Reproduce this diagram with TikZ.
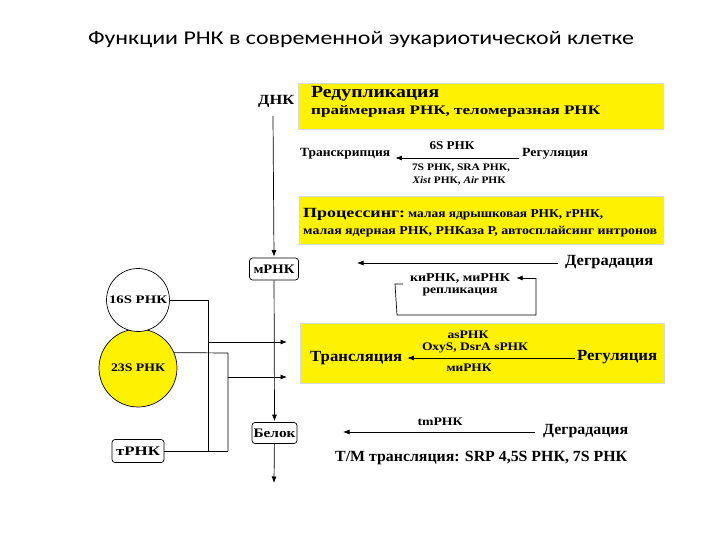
\documentclass[tikz,border=0pt]{standalone}
\usepackage{fontspec}
\usepackage{graphicx}
\setmainfont{Liberation Serif}
\newfontfamily\titlefont{Carlito}
\usetikzlibrary{arrows.meta}
\newcommand{\fs}[1]{\fontsize{#1}{#1}\selectfont}
\newcommand{\hs}[2]{\resizebox{#1pt}{\height}{#2}}
\begin{document}
\begin{tikzpicture}[x=1pt,y=-1pt,
  lbl/.style={font=\bfseries, inner sep=0pt},
  ybox/.style={fill=yellow, draw=black!15, line width=0.6pt},
  mbox/.style={draw, rounded corners=3pt, line width=0.7pt, inner sep=0pt, font=\bfseries\fs{13}},
  arr/.style={-{Latex[length=6.5pt,width=5pt]}, line width=0.7pt},
  ln/.style={line width=0.7pt}]
\useasboundingbox (0,0) rectangle (720,540);
% title
\node[font=\titlefont\fs{19.5}, inner sep=0pt] (title) at (361,40) {\hs{546}{Функции РНК в современной эукариотической клетке}};
% DNA and main axis
\node[lbl, font=\bfseries\fs{14}, anchor=west] (dnk) at (258,101) {\hs{36}{ДНК}};
\coordinate (dnkb) at (273,116);
\node[mbox, minimum width=49, minimum height=22] (mrna) at (274,269) {\hs{41}{мРНК}};
\node[mbox, minimum width=45, minimum height=21] (belok) at (274.5,433) {\hs{42}{Белок}};
\coordinate (endp) at (274,483);
\draw[arr] (dnkb) -- ([yshift=1pt]mrna.north);
\draw[arr] (mrna) -- ([yshift=1pt]belok.north);
\draw[arr] (belok) -- (endp);
% box 1
\path[ybox] (298,83) rectangle (663,129);
\node[lbl, font=\bfseries\fs{17}, anchor=west] (redup) at (311,94) {\hs{128}{Редупликация}};
\node[lbl, font=\bfseries\fs{13}, anchor=west] (prim) at (311,111) {\hs{289}{праймерная РНК, теломеразная РНК}};
% transcription row
\node[lbl, font=\bfseries\fs{12.5}, anchor=west] (trs) at (300,154) {\hs{90}{Транскрипция}};
\node[lbl, font=\bfseries\fs{12.5}, anchor=west] (reg1) at (522,154) {\hs{66}{Регуляция}};
\draw[arr] ([shift={(-3,4)}]reg1.west) -- ([shift={(5,4)}]trs.east);
\node[lbl, font=\bfseries\fs{12}] (s6) at (452,146) {\hs{45}{6S РНК}};
\node[lbl, font=\bfseries\fs{10}] (s7) at (461,168) {\hs{98}{7S РНК, SRA РНК,}};
\node[lbl, font=\bfseries\fs{10}] (xist) at (459,181) {\hs{93}{\textit{Xist} РНК, \textit{Air} РНК}};
% box 2
\path[ybox] (299,196) rectangle (663,244);
\node[lbl, anchor=west, font=\bfseries\fs{14}] (proc) at (303,214) {\hs{102}{Процессинг:}};
\node[lbl, anchor=west, font=\bfseries\fs{12}] (proc1) at (408,214.5) {\hs{195}{малая ядрышковая РНК, rРНК,}};
\node[lbl, font=\bfseries\fs{12}, anchor=west] (proc2) at (303,232) {\hs{354}{малая ядерная РНК, РНКаза Р, автосплайсинг интронов}};
% degradation 1
\node[lbl, font=\bfseries\fs{15.5}, anchor=west] (deg1) at (565,262) {\hs{88}{Деградация}};
\coordinate (deg1e) at (357,263);
\draw[arr] ([shift={(-7,1)}]deg1.west) -- (deg1e);
% loop
\node[lbl, font=\bfseries\fs{12}] (ki) at (460,278) {\hs{100}{киРНК, миРНК}};
\node[lbl, font=\bfseries\fs{12}] (repl) at (460,292) {\hs{75}{репликация}};
\coordinate (la) at (403,284);
\coordinate (lb) at (395,284);
\coordinate (lc) at (397,315);
\coordinate (ld) at (536,315);
\coordinate (le) at (536,278);
\draw[ln] (la) -- (lb) -- (lc) -- (ld) -- (le);
\draw[arr] (le) -- ([xshift=6pt]ki.east);
% translation box
\path[ybox] (300,323) rectangle (664,383);
\node[lbl, font=\bfseries\fs{15.5}, anchor=west] (trl) at (310,358) {\hs{92}{Трансляция}};
\node[lbl, font=\bfseries\fs{15.5}, anchor=west] (reg2) at (577,357) {\hs{80}{Регуляция}};
\draw[arr] ([shift={(-2,1)}]reg2.west) -- ([xshift=5pt]trl.east);
\node[lbl, font=\bfseries\fs{11.5}] (as) at (468,335) {\hs{41}{asРНК}};
\node[lbl, font=\bfseries\fs{11.5}] (oxy) at (475,348) {\hs{106}{OxyS, DsrA sРНК}};
\node[lbl, font=\bfseries\fs{11.5}] (mi) at (469,368) {\hs{45}{миРНК}};
% tm row
\node[lbl, font=\bfseries\fs{15.5}, anchor=west] (deg2) at (543,431) {\hs{85}{Деградация}};
\coordinate (deg2e) at (343,432);
\draw[arr] ([shift={(-8,1)}]deg2.west) -- (deg2e);
\node[lbl, font=\bfseries\fs{11.5}] (tm) at (440,422) {\hs{45}{tmРНК}};
\node[lbl, font=\bfseries\fs{15.5}, anchor=west] (tmt) at (335,458) {\hs{292}{Т/М трансляция: SRP 4,5S РНК, 7S РНК}};
% ribosome parts
\node[circle, draw, fill=yellow, line width=0.7pt, minimum size=78, inner sep=0pt, font=\bfseries\fs{11.5}] (c23) at (138,368) {\hs{54}{23S РНК}};
\node[circle, draw, fill=white, line width=0.7pt, minimum size=63, inner sep=0pt, font=\bfseries\fs{11.5}] (c16) at (138,300) {\hs{58}{16S РНК}};
\node[mbox, minimum width=52, minimum height=23] (trna) at (138,451) {\hs{44}{тРНК}};
\coordinate (v1t) at (208,300);
\coordinate (v1b) at (208,451);
\coordinate (v2t) at (228,353);
\coordinate (v2b) at (228,451);
\draw[ln] (c16.east) -- (v1t) -- (v1b);
\draw[ln] (c23.23) -- (v2t) -- (v2b);
\draw[ln] (trna.east) -- (v2b);
\coordinate (a1s) at (208,342);
\coordinate (a1e) at (287,342);
\coordinate (a2s) at (228,377);
\coordinate (a2e) at (287,377);
\draw[arr] (a1s) -- (a1e);
\draw[arr] (a2s) -- (a2e);
\end{tikzpicture}
\end{document}
